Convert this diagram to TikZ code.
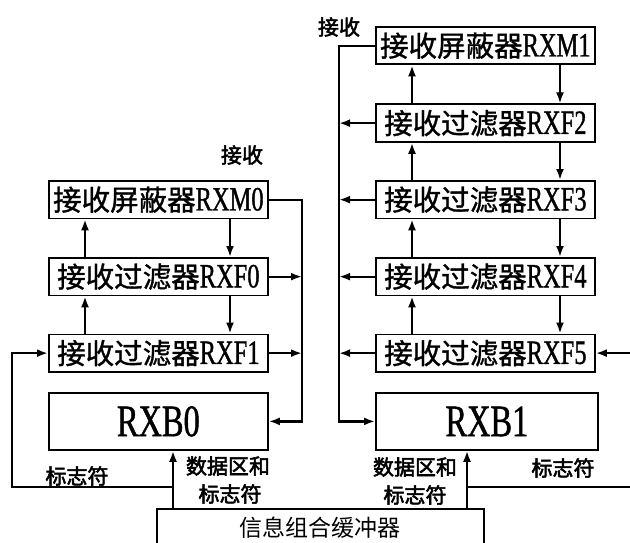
\documentclass[tikz,border=0pt]{standalone}
\usepackage{fontspec}
\newfontfamily\cjk[FakeBold=1.2]{Noto Sans CJK SC}
\newfontfamily\cjkr{Noto Sans CJK SC}
\newfontfamily\cjkb[FakeBold=2.5]{Noto Sans CJK SC}
\newfontfamily\lat[FakeStretch=0.72,FakeBold=1]{Liberation Serif}
\usetikzlibrary{arrows.meta}
\newcommand\bxt[2]{{\cjk\fontsize{28.5}{28}\selectfont #1}{\lat\fontsize{34}{34}\selectfont #2}}
\begin{document}
\begin{tikzpicture}[x=1pt,y=-1pt,
  box/.style={draw,line width=1.8pt,minimum width=219pt,minimum height=37.5pt,inner sep=0pt,anchor=north west},
  bigbox/.style={box,minimum height=57pt},
  bufbox/.style={draw,line width=1.8pt,minimum width=327pt,minimum height=38pt,inner sep=0pt,anchor=north west,font=\cjkr\fontsize{23}{23}\selectfont},
  lbl/.style={inner sep=0pt,font=\cjkb\fontsize{21}{21}\selectfont},
  ln/.style={line width=2.2pt},
  arr/.style={line width=2.2pt,-{Latex[length=11pt,width=8pt]}}]
\useasboundingbox (0,0) rectangle (630,543);
\clip (0,0) rectangle (630,543);
% left column
\node[box] (RXM0) at (48,180) {\bxt{接收屏蔽器}{RXM0}};
\node[box] (RXF0) at (48,257) {\bxt{接收过滤器}{RXF0}};
\node[box] (RXF1) at (48,333.5) {\bxt{接收过滤器}{RXF1}};
\node[bigbox] (RXB0) at (48,392) {\lat\fontsize{45}{45}\selectfont RXB0};
% right column
\node[box] (RXM1) at (375,26) {\bxt{接收屏蔽器}{RXM1}};
\node[box] (RXF2) at (375,103.5) {\bxt{接收过滤器}{RXF2}};
\node[box] (RXF3) at (375,180) {\bxt{接收过滤器}{RXF3}};
\node[box] (RXF4) at (375,257) {\bxt{接收过滤器}{RXF4}};
\node[box] (RXF5) at (375,333.5) {\bxt{接收过滤器}{RXF5}};
\node[bigbox,minimum width=222pt] (RXB1) at (375,392) {\lat\fontsize{45}{45}\selectfont RXB1};
% buffer
\node[bufbox] (buf) at (156,508) {信息组合缓冲器};
% labels
\node[lbl] (jsL) at (242,155) {接收};
\node[lbl] (jsR) at (339,27) {接收};
\node[lbl] (flL) at (77,476) {标志符};
\node[lbl] (dL1) at (228,466) {数据区和};
\node[lbl] (dL2) at (230,494) {标志符};
\node[lbl] (dR1) at (415,467) {数据区和};
\node[lbl] (dR2) at (415,495) {标志符};
\node[lbl] (flR) at (563,468) {标志符};
% helper coordinates
\coordinate (dnL) at (230,0);
\coordinate (upL) at (85,0);
\coordinate (busL) at (302,0);
\coordinate (fbL) at (12,0);
\coordinate (inL) at (173,0);
\coordinate (flagY) at (0,487);
\coordinate (busR) at (339,0);
\coordinate (upR) at (412,0);
\coordinate (dnR) at (560,0);
\coordinate (inR) at (467,0);
\coordinate (edge) at (634,0);
% left connectors
\draw[arr] (RXM0.south -| dnL) -- (RXF0.north -| dnL);
\draw[arr] (RXF0.south -| dnL) -- (RXF1.north -| dnL);
\draw[arr] (RXF0.north -| upL) -- (RXM0.south -| upL);
\draw[arr] (RXF1.north -| upL) -- (RXF0.south -| upL);
\draw[arr] (RXM0.east) -- (RXM0.east -| busL) -- (RXB0.east -| busL) -- (RXB0.east);
\draw[arr] (RXF0.east) -- (RXF0.east -| busL);
\draw[arr] (RXF1.east) -- (RXF1.east -| busL);
\draw[arr] (buf.north -| inL) -- (RXB0.south -| inL);
\draw[arr] (inL |- flagY) -- (fbL |- flagY) -- (fbL |- RXF1.west) -- (RXF1.west);
% right connectors
\draw[arr] (RXM1.south -| dnR) -- (RXF2.north -| dnR);
\draw[arr] (RXF2.south -| dnR) -- (RXF3.north -| dnR);
\draw[arr] (RXF3.south -| dnR) -- (RXF4.north -| dnR);
\draw[arr] (RXF4.south -| dnR) -- (RXF5.north -| dnR);
\draw[arr] (RXF2.north -| upR) -- (RXM1.south -| upR);
\draw[arr] (RXF3.north -| upR) -- (RXF2.south -| upR);
\draw[arr] (RXF4.north -| upR) -- (RXF3.south -| upR);
\draw[arr] (RXF5.north -| upR) -- (RXF4.south -| upR);
\draw[arr] (RXM1.west) -- (RXM1.west -| busR) -- (RXB1.west -| busR) -- (RXB1.west);
\draw[arr] (RXF2.west) -- (RXF2.west -| busR);
\draw[arr] (RXF3.west) -- (RXF3.west -| busR);
\draw[arr] (RXF4.west) -- (RXF4.west -| busR);
\draw[arr] (RXF5.west) -- (RXF5.west -| busR);
\draw[arr] (RXF5.east -| edge) -- (RXF5.east);
\draw[arr] (buf.north -| inR) -- (RXB1.south -| inR);
\draw[ln] (inR |- flagY) -- (edge |- flagY);
\end{tikzpicture}
\end{document}
